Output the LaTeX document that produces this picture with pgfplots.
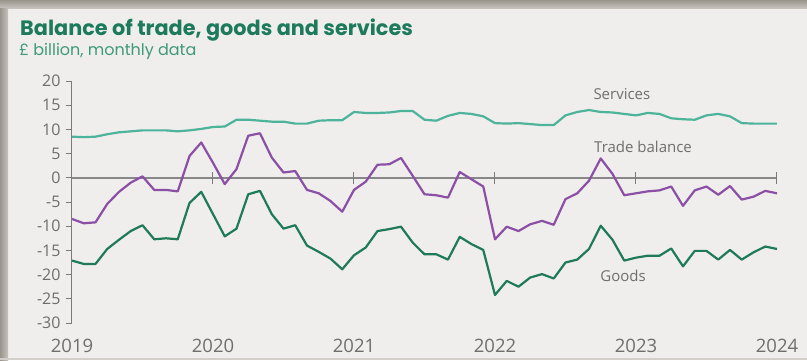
\documentclass[border=0pt]{standalone}
\usepackage{pgfplots}
\pgfplotsset{compat=1.18}
\usepackage{pgfplotstable}
\usepackage{fontspec}
\setmainfont{Open Sans}
\newfontfamily\titlefont{Poppins}
\definecolor{bgc}{HTML}{EFEEEC}
\definecolor{framec}{HTML}{B4AEA5}
\definecolor{titlec}{HTML}{1D7A5C}
\definecolor{subc}{HTML}{3F9A78}
\definecolor{servc}{HTML}{4DB39A}
\definecolor{tradec}{HTML}{8B4FA6}
\definecolor{goodc}{HTML}{1F7A58}
\definecolor{axc}{HTML}{7A7A7A}
\definecolor{labc}{HTML}{6E6E6E}
\pgfplotstableread{
m g t s
0 -17.1 -8.5 8.5
1 -17.8 -9.4 8.4
2 -17.8 -9.2 8.5
3 -14.7 -5.4 9.0
4 -12.8 -2.9 9.4
5 -11.0 -1.0 9.6
6 -9.8 0.3 9.8
7 -12.7 -2.5 9.8
8 -12.5 -2.5 9.8
9 -12.7 -2.8 9.6
10 -5.2 4.5 9.8
11 -2.9 7.3 10.1
12 -7.5 3.1 10.5
13 -12.1 -1.3 10.6
14 -10.5 1.8 12.0
15 -3.4 8.7 12.0
16 -2.7 9.2 11.8
17 -7.5 4.2 11.6
18 -10.5 1.1 11.6
19 -9.8 1.4 11.2
20 -14.0 -2.5 11.2
21 -15.3 -3.2 11.8
22 -16.7 -4.8 11.9
23 -18.9 -7.0 11.9
24 -16.0 -2.5 13.6
25 -14.4 -0.8 13.4
26 -11.0 2.7 13.4
27 -10.6 2.8 13.5
28 -10.1 4.1 13.8
29 -13.4 0.4 13.8
30 -15.8 -3.4 12.0
31 -15.8 -3.6 11.8
32 -16.9 -4.1 12.8
33 -12.2 1.2 13.4
34 -13.7 -0.3 13.2
35 -14.9 -1.8 12.7
36 -24.2 -12.7 11.3
37 -21.3 -10.1 11.2
38 -22.5 -11.0 11.3
39 -20.6 -9.6 11.1
40 -19.9 -8.9 10.9
41 -20.8 -9.7 10.9
42 -17.5 -4.4 12.9
43 -16.9 -3.2 13.6
44 -14.7 -0.6 14.0
45 -9.9 4.0 13.6
46 -12.8 0.8 13.5
47 -17.1 -3.6 13.2
48 -16.5 -3.2 12.9
49 -16.1 -2.8 13.4
50 -16.1 -2.6 13.2
51 -14.6 -1.8 12.3
52 -18.3 -5.8 12.1
53 -15.1 -2.6 12.0
54 -15.1 -1.8 12.9
55 -16.9 -3.5 13.2
56 -14.9 -1.7 12.7
57 -16.9 -4.5 11.3
58 -15.4 -3.9 11.2
59 -14.2 -2.7 11.2
60 -14.7 -3.2 11.2
}\data
\begin{document}
\begin{tikzpicture}[x=1pt,y=1pt]
\useasboundingbox (0,0) rectangle (807,-360);
\fill[bgc] (0,0) rectangle (807,-360);
\shade[top color=framec!85!black, bottom color=framec!75!white] (0,0) rectangle (807,-8);
\shade[left color=framec!85!black, right color=framec!75!white] (0,-8) rectangle (8,-360);
\fill[framec!60!white] (0,-357.5) rectangle (807,-360);
\node[anchor=base west, inner sep=0pt, text=titlec, font=\titlefont\bfseries\fontsize{20.8}{24}\selectfont] at (20,-35) {Balance of trade, goods and services};
\node[anchor=base west, inner sep=0pt, text=subc, font=\titlefont\fontsize{16}{18}\selectfont] at (19,-55) {£ billion, monthly data};
\begin{axis}[
  at={(72pt,-323pt)}, anchor=south west,
  scale only axis, width=705pt, height=242pt,
  xmin=0, xmax=60, ymin=-30, ymax=20,
  axis x line=none, axis y line*=left,
  y axis line style={draw=axc, line width=1pt},
  ytick={-30,-25,...,20},
  tick align=outside, major tick length=6pt,
  every tick/.style={draw=axc, line width=1pt},
  yticklabel style={font=\fontsize{16}{18}\selectfont, text=labc, xshift=-2pt},
  /pgf/number format/assume math mode=true,
  clip=false,
]
\draw[axc!90!white, line width=1.8pt] (axis cs:0,0) -- (axis cs:60,0);
\draw[axc, line width=1pt] (axis cs:12,-1.25) -- (axis cs:12,1.25);
\draw[axc, line width=1pt] (axis cs:24,-1.25) -- (axis cs:24,1.25);
\draw[axc, line width=1pt] (axis cs:36,-1.25) -- (axis cs:36,1.25);
\draw[axc, line width=1pt] (axis cs:48,-1.25) -- (axis cs:48,1.25);
\draw[axc, line width=1pt] (axis cs:60,-1.25) -- (axis cs:60,1.25);
\node[text=labc, font=\fontsize{18.5}{20}\selectfont, yshift=-23pt] at (axis cs:0,-30) {2019};
\node[text=labc, font=\fontsize{18.5}{20}\selectfont, yshift=-23pt] at (axis cs:12,-30) {2020};
\node[text=labc, font=\fontsize{18.5}{20}\selectfont, yshift=-23pt] at (axis cs:24,-30) {2021};
\node[text=labc, font=\fontsize{18.5}{20}\selectfont, yshift=-23pt] at (axis cs:36,-30) {2022};
\node[text=labc, font=\fontsize{18.5}{20}\selectfont, yshift=-23pt] at (axis cs:48,-30) {2023};
\node[text=labc, font=\fontsize{18.5}{20}\selectfont, yshift=-23pt] at (axis cs:60,-30) {2024};
\addplot[servc, line width=2.2pt, line join=round] table[x=m,y=s] {\data};
\addplot[tradec, line width=2.2pt, line join=round] table[x=m,y=t] {\data};
\addplot[goodc, line width=2.2pt, line join=round] table[x=m,y=g] {\data};
\node[text=labc, font=\fontsize{15}{18}\selectfont] at (axis cs:46.8,17.4) {Services};
\node[text=labc, font=\fontsize{15}{18}\selectfont] at (axis cs:48.6,6.4) {Trade balance};
\node[text=labc, font=\fontsize{15}{18}\selectfont] at (axis cs:46.9,-20.2) {Goods};
\end{axis}
\end{tikzpicture}
\end{document}
